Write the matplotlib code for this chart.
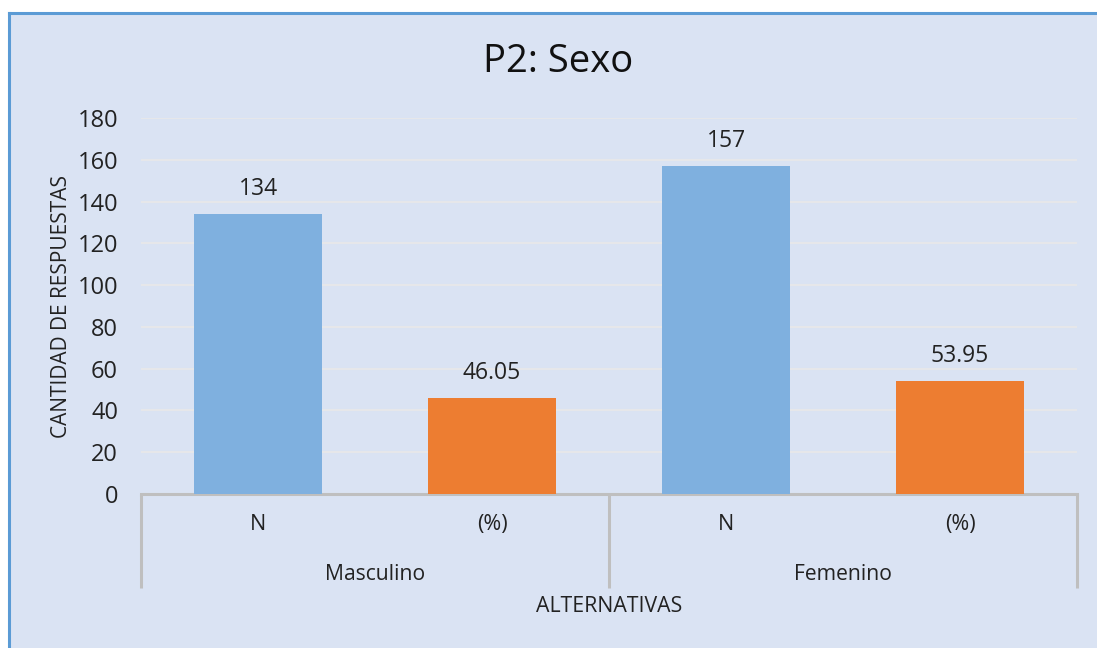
import matplotlib.pyplot as plt
from matplotlib.patches import Rectangle
from matplotlib.lines import Line2D

# --- datos ---
groups = ["Masculino", "Femenino"]
sub_labels = ["N", "(%)", "N", "(%)"]
values = [134, 46.05, 157, 53.95]
value_labels = ["134", "46.05", "157", "53.95"]
yticks = [0, 20, 40, 60, 80, 100, 120, 140, 160, 180]

BG = "#DAE3F3"
BLUE = "#7FB0DF"
ORANGE = "#ED7D31"
AXIS_GREY = "#BFBFBF"
GRID = "#E6E7EA"
TXT = "#222222"
FONT = "Open Sans"

plt.rcParams["font.family"] = [FONT, "DejaVu Sans"]

W, H = 1097, 648
fig = plt.figure(figsize=(W / 100, H / 100), dpi=100)
fig.patch.set_facecolor("white")

# fondo del gráfico con borde azul arriba e izquierda
fig.patches.append(Rectangle((9 / W, 0), 1, 1 - 13 / H, transform=fig.transFigure,
                             facecolor=BG, edgecolor="none", zorder=-10))
fig.lines.append(Line2D([9 / W, 1], [1 - 13 / H, 1 - 13 / H], transform=fig.transFigure,
                        color="#5B9BD5", lw=2.2, zorder=-5))
fig.lines.append(Line2D([9 / W, 9 / W], [0, 1 - 13 / H], transform=fig.transFigure,
                        color="#5B9BD5", lw=2.2, zorder=-5))

ax = fig.add_axes([141 / W, (H - 494) / H, (1077 - 141) / W, (494 - 118) / H])
ax.set_facecolor("none")

x = list(range(len(values)))
colors = [BLUE, ORANGE, BLUE, ORANGE]
ax.bar(x, values, width=0.55, color=colors, zorder=3)

for xi, v, lab in zip(x, values, value_labels):
    ax.annotate(lab, (xi, v), xytext=(0, 18), textcoords="offset points",
                ha="center", va="center", fontsize=16.5, color=TXT)

ax.set_xlim(-0.5, 3.5)
ax.set_ylim(0, 180)
ax.set_yticks(yticks)
ax.tick_params(axis="y", length=0, labelsize=17, pad=16.5, labelcolor=TXT)
ax.set_xticks([])
ax.grid(axis="y", color=GRID, lw=1.5, zorder=0)
for s in ["top", "right", "left"]:
    ax.spines[s].set_visible(False)
ax.spines["bottom"].set_color(AXIS_GREY)
ax.spines["bottom"].set_linewidth(2.2)

# etiquetas jerárquicas del eje x
trans = ax.get_xaxis_transform()
for xi, lab in zip(x, sub_labels):
    ax.text(xi, -0.082, lab, transform=trans, ha="center", va="center",
            fontsize=15.5, color=TXT)
for gi, g in enumerate(groups):
    ax.text(gi * 2 + 0.5, -0.215, g, transform=trans, ha="center", va="center",
            fontsize=15.2, color=TXT)
for xd in [-0.5, 1.5, 3.5]:
    ax.plot([xd, xd], [0, -0.25], transform=trans, color=AXIS_GREY, lw=2.2,
            clip_on=False, solid_capstyle="butt")

ax.text(1.5, -0.30, "ALTERNATIVAS", transform=trans, ha="center", va="center",
        fontsize=15.3, color=TXT)

fig.text(62 / W, 1 - 307 / H, "CANTIDAD DE RESPUESTAS", rotation=90, ha="center",
         va="center", fontsize=15, color=TXT)
fig.text(558 / W, 1 - 62 / H, "P2: Sexo", ha="center", va="center", fontsize=27.5,
         color="#111111")

fig.savefig("out.png", dpi=100)
